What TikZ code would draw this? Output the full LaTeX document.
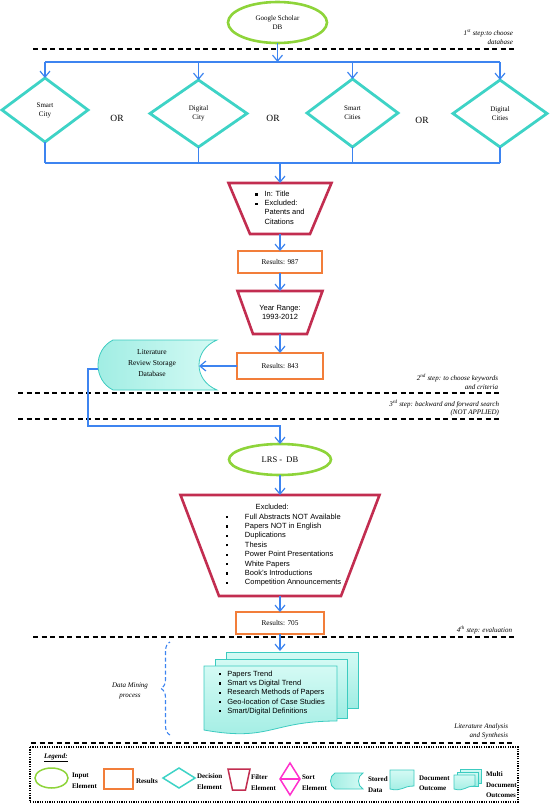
\documentclass[tikz,border=0pt]{standalone}
\usepackage{fontspec}
\setmainfont{Liberation Serif}
\setsansfont{Liberation Sans}
\usetikzlibrary{shapes.geometric, arrows.meta, decorations.pathreplacing}
\definecolor{flowblue}{HTML}{3D84F0}
\definecolor{inputgreen}{HTML}{8ED43A}
\definecolor{decturq}{HTML}{3ED3C6}
\definecolor{resorange}{HTML}{F27E3A}
\definecolor{filtred}{HTML}{C22D50}
\definecolor{sortpink}{HTML}{FF30CC}
\definecolor{docedge}{HTML}{3CCBC0}
\definecolor{doctop}{HTML}{D4FAF4}
\definecolor{docbot}{HTML}{9FEDE3}
\newcommand{\bul}{\raisebox{1pt}{\rule{2.2pt}{2.2pt}}}
\newcommand{\filtershape}[3][]{%
    \draw[filterline, #1] (#2.north west) -- (#2.north east)
        -- ([xshift=-#3]#2.south east) -- ([xshift=#3]#2.south west) -- cycle;
}

\begin{document}
\begin{tikzpicture}[
        x=1pt,
        y=-1pt,
        >={Straight Barb[length=6pt,width=10pt]},
        every node/.style={font=\fontsize{7}{9}\selectfont, inner sep=0pt, outer sep=0pt},
        flowarrow/.style={->, draw=flowblue, line width=1.2pt},
        flowline/.style={draw=flowblue, line width=1.2pt},
        dbnode/.style={ellipse, draw=inputgreen, line width=2.6pt, align=center},
        keyword/.style={diamond, draw=decturq, line width=2.8pt, align=center},
        resultbox/.style={draw=resorange, line width=2.8pt, font=\fontsize{7.3}{9}\selectfont},
        filterbox/.style={align=center, font=\sffamily\fontsize{7.5}{9.2}\selectfont},
        filterline/.style={draw=filtred, line width=2.6pt},
        sorter/.style={diamond, draw=sortpink, line width=1.5pt},
        docshape/.style={draw=docedge, line width=0.8pt, top color=doctop, bottom color=docbot},
        storeshape/.style={draw=docedge, line width=0.8pt, left color=docbot, right color=doctop},
        stepline/.style={line width=1.2pt, dash pattern=on 5pt off 3.5pt},
        steplabel/.style={anchor=east, align=right, font=\itshape\fontsize{7}{8.8}\selectfont},
        legtext/.style={anchor=west, align=left, font=\bfseries\fontsize{7}{10.5}\selectfont}
    ]
    \useasboundingbox (0,0) rectangle (550,803);

    % step separators
    \draw[stepline] (33,49) -- (517,49);
    \draw[stepline] (18,393) -- (501,393);
    \draw[stepline] (18,419) -- (501,419);
    \draw[stepline] (33,637) -- (517,637);
    \draw[stepline] (31,743) -- (512,743);

    \node[steplabel] (s1) at (513,37) {1\textsuperscript{st} step:to choose\\database};
    \node[steplabel] (s2) at (498,381.5) {2\textsuperscript{nd} step: to choose keywords\\and criteria};
    \node[steplabel] (s3) at (499,408) {3\textsuperscript{rd} step: backward and forward search\\(NOT APPLIED)};
    \node[steplabel] (s4) at (512,630) {4\textsuperscript{th} step: evaluation};
    \node[steplabel] (s5) at (508,731) {Literature Analysis\\and Synthesis};

    % database and keywords
    \node[dbnode, minimum width=99, minimum height=41] (gs) at (277.5,22.5) {Google Scholar\\DB};
    \node[keyword, minimum width=86, minimum height=64] (k1) at (45,110) {Smart\\City};
    \node[keyword, minimum width=97, minimum height=67] (k2) at (198.5,113.5) {Digital\\City};
    \node[keyword, minimum width=91, minimum height=68] (k3) at (352.5,113) {Smart\\Cities};
    \node[keyword, minimum width=94, minimum height=67] (k4) at (500,113.5) {Digital\\Cities};
    \node[font=\fontsize{9.5}{11}\selectfont] (or1) at (117,118) {OR};
    \node[font=\fontsize{9.5}{11}\selectfont] (or2) at (273,118) {OR};
    \node[font=\fontsize{9.5}{11}\selectfont] (or3) at (422,120) {OR};

    \draw[flowarrow] (gs.south) -- (gs.south |- 0,62);
    \draw[flowline] (k1.north |- 0,62) -- (k4.north |- 0,62);
    \foreach \k in {k1,k2,k3,k4} {
        \draw[flowarrow] (\k.north |- 0,62) -- (\k.north);
        \draw[flowline] (\k.south) -- (\k.south |- 0,163);
    }
    \draw[flowline] (k1.south |- 0,163) -- (k4.south |- 0,163);

    % filters and results
    \node[filterbox, minimum width=103, minimum height=51] (f1) at (280,208.5) {%
        \begin{tabular}{@{}l@{\hspace{7pt}}l@{}}
            \bul & In: Title\\
            \bul & Excluded:\\
                 & Patents and\\
                 & Citations
        \end{tabular}};
    \filtershape{f1}{21.5}
    \draw[flowarrow] (f1.north |- 0,163) -- (f1.north);
    \node[resultbox, minimum width=84, minimum height=22] (r987) at (280,262) {Results: 987};
    \draw[flowarrow] (f1) -- (r987);
    \node[filterbox, minimum width=85, minimum height=43] (f2) at (280,312.5) {Year Range:\\1993-2012};
    \filtershape{f2}{15.5}
    \draw[flowarrow] (r987) -- (f2);
    \node[resultbox, minimum width=86, minimum height=26] (r843) at (280,366) {Results: 843};
    \draw[flowarrow] (f2) -- (r843);

    % storage
    \draw[storeshape] (113,340) -- (217,340) .. controls (193,350) and (193,380) .. (217,390)
        -- (113,390) .. controls (93,380) and (93,350) .. (113,340) -- cycle;
    \coordinate (lrsleft) at (98,369);
    \node[align=center, minimum width=94, font=\fontsize{7.5}{11}\selectfont] (lrs) at (152,363) {Literature\\Review Storage\\Database};
    \draw[flowarrow] (r843.west) -- (r843.west -| lrs.east);

    \node[dbnode, minimum width=102, minimum height=31, font=\fontsize{8.5}{10}\selectfont] (lrsdb) at (280,459.5) {LRS -\ \ DB};
    \draw[flowarrow] (lrsleft) -| (88,426) -| (lrsdb.north);

    \node[filterbox, minimum width=199, minimum height=101, font=\sffamily\fontsize{7.5}{9.4}\selectfont] (f3) at (280,545.5) {%
        \begin{tabular}{@{\hspace{7pt}}l@{\hspace{17pt}}l@{}}
            \multicolumn{2}{@{\hspace{37pt}}l@{}}{Excluded:}\\
            \bul & Full Abstracts NOT Available\\
            \bul & Papers NOT in English\\
            \bul & Duplications\\
            \bul & Thesis\\
            \bul & Power Point Presentations\\
            \bul & White Papers\\
            \bul & Book's Introductions\\
            \bul & Competition Announcements
        \end{tabular}};
    \filtershape{f3}{38.5}
    \draw[flowarrow] (lrsdb) -- (f3);
    \node[resultbox, minimum width=88, minimum height=22] (r705) at (280,623) {Results: 705};
    \draw[flowarrow] (f3) -- (r705);

    % outcome documents
    \draw[docshape] (226,652) rectangle (358,708);
    \draw[docshape] (215,659) rectangle (347,718);
    \draw[docshape] (204,666) -- (337,666) -- (337,721) .. controls (270.5,721) and (270.5,742) .. (204,730) -- cycle;
    \coordinate (mdtop) at (280,651);
    \node[filterbox] (mdoc) at (272,693) {%
        \begin{tabular}{@{}l@{\hspace{6pt}}l@{}}
            \bul & Papers Trend\\
            \bul & Smart vs Digital Trend\\
            \bul & Research Methods of Papers\\
            \bul & Geo-location of Case Studies\\
            \bul & Smart/Digital Definitions
        \end{tabular}};
    \draw[flowarrow] (r705) -- (mdtop);

    % data mining
    \draw[flowblue, line width=1.1pt, dash pattern=on 4pt off 2.5pt, decorate,
        decoration={brace, amplitude=9pt}] (170,735) -- (170,642);
    \node[font=\itshape\fontsize{7}{9.5}\selectfont, align=center] (dm) at (130,691) {Data Mining\\process};

    % legend
    \draw[line width=1.5pt, dash pattern=on 1.2pt off 1.2pt] (30,747) rectangle (518,802);
    \node[anchor=west, font=\bfseries\itshape\fontsize{7}{9}\selectfont] (leg) at (44,758) {\underline{Legend:}};
    \node[dbnode, line width=1.5pt, minimum width=33, minimum height=20] (lin) at (51.5,778) {};
    \node[legtext] (tin) at (72,780.5) {Input\\Element};
    \node[resultbox, line width=1.5pt, minimum width=29, minimum height=20] (lres) at (118.5,779) {};
    \node[legtext] (tres) at (136,781) {Results};
    \node[keyword, line width=1.5pt, minimum width=32, minimum height=20] (ldec) at (179,778) {};
    \node[legtext] (tdec) at (197,781.5) {Decision\\Element};
    \node[minimum width=22, minimum height=21] (lfil) at (239,779.5) {};
    \filtershape[line width=1.5pt]{lfil}{4.5}
    \node[legtext] (tfil) at (251,782.5) {Filter\\Element};
    \node[sorter, minimum width=20, minimum height=32] (lsort) at (290,779) {};
    \draw[sortpink, line width=1.5pt] (lsort.west) -- (lsort.east);
    \node[legtext] (tsort) at (302,782.5) {Sort\\Element};
    \draw[storeshape] (335,773) -- (363,773) .. controls (357,776) and (357,786) .. (363,789)
        -- (335,789) .. controls (329,786) and (329,776) .. (335,773) -- cycle;
    \node[legtext] (tstore) at (368,784.5) {Stored\\Data};
    \draw[docshape] (390,770) -- (414,770) -- (414,786) .. controls (402,786) and (402,792) .. (390,789) -- cycle;
    \node[legtext] (tdoc) at (419,783) {Document\\Outcome};
    \draw[docshape] (460,769) rectangle (481,783);
    \draw[docshape] (457,772) rectangle (478,786);
    \draw[docshape] (454,775) -- (475,775) -- (475,786) .. controls (464.5,786) and (464.5,792) .. (454,789) -- cycle;
    \node[legtext] (tmulti) at (486,785) {Multi\\Document\\Outcomes};
\end{tikzpicture}
\end{document}
